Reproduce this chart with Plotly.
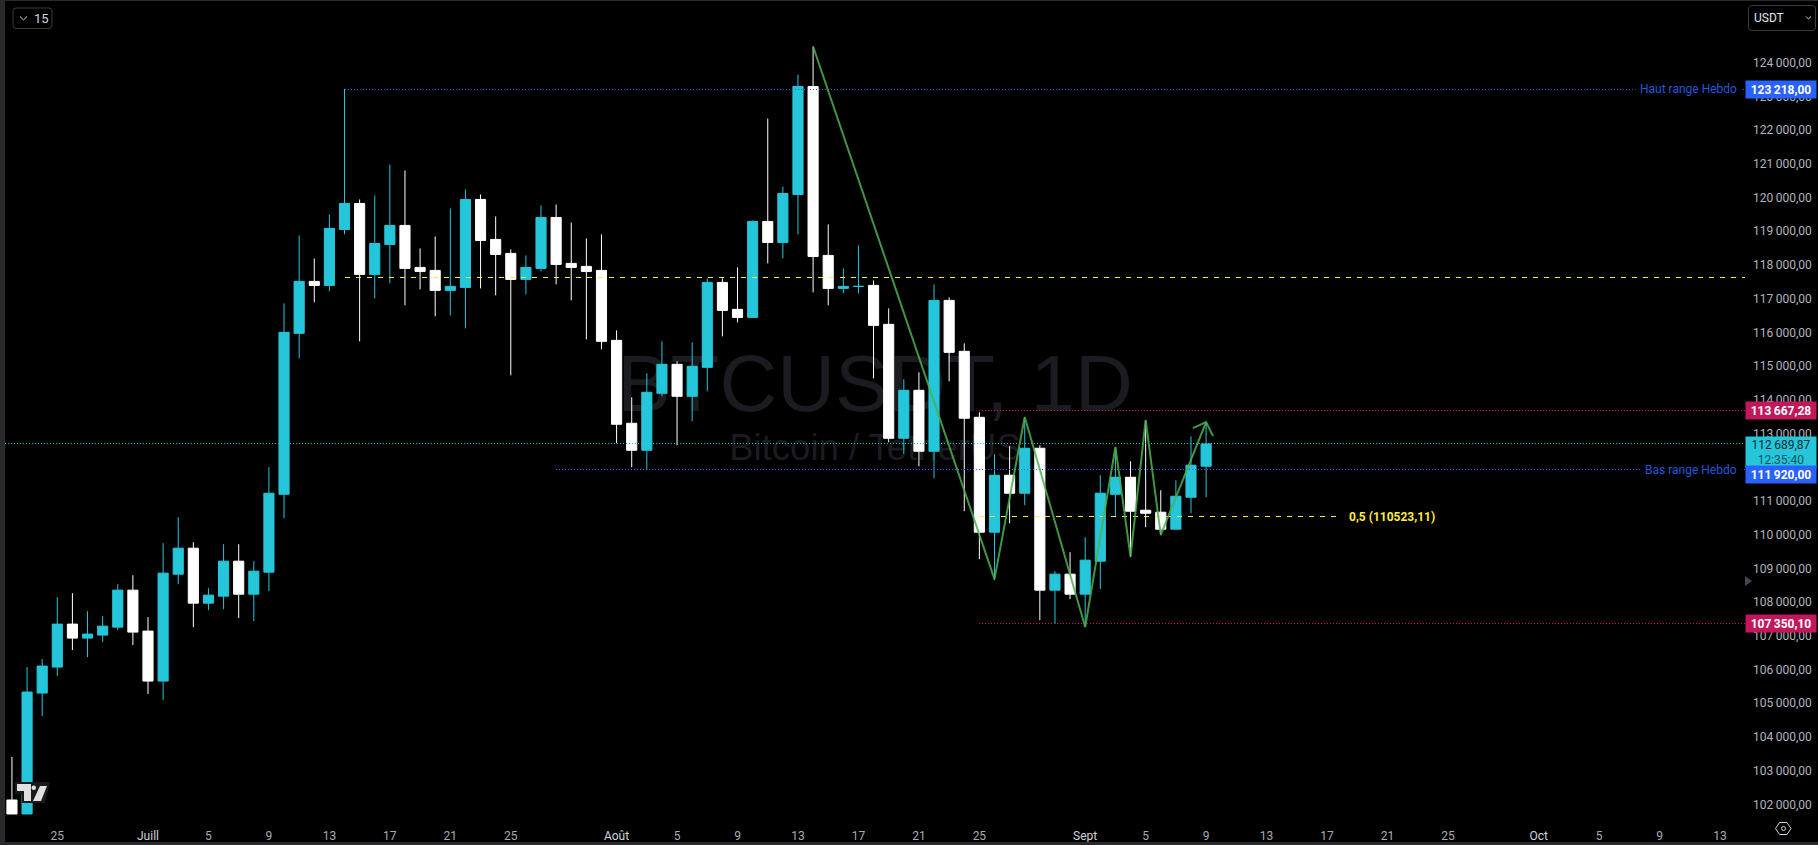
import pandas as pd
import plotly.graph_objects as go

W, H = 1818, 845
ML, MR, MB = 5, 73, 20
FONT = "Roboto"
CYAN = "#26C6DA"
WHITE = "#FFFFFF"
BLUE = "#2962FF"
RED = "#C2185B"
YELLOW = "#FFEB3B"
GREEN = "#4CAF50"

first_day = "2025-06-22"
opens = [102089,101673,105266,106038,107315,106899,106988,107225,108324,107107,105622,108799,109571,107938,108146,109185,108205,108858,111174,115954,
         117498,117379,119042,119814,117706,118597,119161,117914,117825,117231,117320,119933,118745,118330,117558,117884,119398,118033,117944,117825,
         115746,113282,112481,114173,115034,114084,114945,117468,116667,116429,119280,118656,120081,123288,118270,117290,117350,117379,116222,112837,
         114262,112451,116934,115420,113460,110046,111738,111204,112540,108324,108799,108205,109185,111174,111679,110699,110640,110135,111085,112006]
highs = [103366,106038,106275,108116,108235,107700,107552,108502,108769,107522,109719,110491,109749,108383,109690,109690,109185,111976,116845,118864,
         118181,119487,123218,119933,120052,120972,120794,118478,118834,119666,120230,120081,119428,118448,118270,119755,119784,119250,118775,118894,
         116043,114054,114767,115717,115123,115687,117587,117587,117914,119309,122338,120319,123644,124475,119191,117884,118567,117528,116697,114589,
         114796,117409,117023,115657,113609,112362,112599,113460,112629,108888,109452,109898,111738,112570,112154,113371,111293,111590,112896,113312]
lows = [101673,101673,104583,105771,106543,106335,106780,107136,106691,105236,105058,108502,107225,107730,107760,107493,107404,108294,110462,115212,
        116875,117201,118894,115717,116993,117439,116786,117261,116459,116489,116103,117290,117083,114707,117112,117795,117409,116934,115776,115479,
        112688,111976,111887,114084,112629,113342,114232,115865,116281,116429,118033,118181,118894,117172,116786,117142,117142,114618,112718,112362,
        112006,111649,114529,110669,109244,108621,110313,110848,107433,107315,108057,107225,108354,110491,109304,110194,109957,110135,110610,111085]
closes = [101673,105296,106068,107315,106899,107018,107255,108324,107077,105622,108829,109571,107938,108176,109185,108205,108888,111204,115984,117498,
          117379,119072,119814,117706,118626,119161,117884,117795,117231,117350,119933,118715,118300,117558,117914,119398,118003,117914,117795,115717,
          113253,112481,114203,115034,114084,114975,117468,116637,116429,119280,118656,120111,123288,118240,117290,117350,117350,116192,112837,114262,
          112451,116934,115390,113431,110046,111738,111204,112540,108324,108799,108205,109215,111204,111679,110669,110610,110135,111115,112035,112650]
dates = pd.date_range(first_day, periods=len(opens), freq="D")

# levels
level_high, level_low = 123218.00, 111920.00
level_mid = 117630
fib_half = 110523.11
level_red_up, level_red_down = 113667.28, 107350.10
last_price = 112689.87

# green wave drawing
wave_dates = ["2025-08-14","2025-08-26","2025-08-28","2025-09-01","2025-09-03","2025-09-04","2025-09-05","2025-09-06","2025-09-09"]
wave_prices = [124480,108680,113490,107260,112600,109340,113400,109990,113340]
arrow_dates = ["2025-09-08 03:00","2025-09-09 00:00","2025-09-09 11:00"]
arrow_prices = [113160,113340,112920]

y_ticks = list(range(102000, 125000, 1000))
x_tick_dates = ["2025-06-25","2025-07-01","2025-07-05","2025-07-09","2025-07-13","2025-07-17","2025-07-21","2025-07-25",
                "2025-08-01","2025-08-05","2025-08-09","2025-08-13","2025-08-17","2025-08-21","2025-08-25",
                "2025-09-01","2025-09-05","2025-09-09","2025-09-13","2025-09-17","2025-09-21","2025-09-25",
                "2025-10-01","2025-10-05","2025-10-09","2025-10-13"]
x_tick_text = ["25","Juill","5","9","13","17","21","25","Août","5","9","13","17","21","25","Sept","5","9","13","17","21","25","Oct","5","9","13"]
MONTHS = {"Juill","Août","Sept","Oct"}


# the candle values above were first read against a scale a hair too flat: small correction
def read_fix(values):
    return [round(v + 39 - 0.00165 * (v - 102000), 2) for v in values]


opens, highs, lows, closes = read_fix(opens), read_fix(highs), read_fix(lows), read_fix(closes)
closes[-1] = last_price
highs[22] = level_high


def fr(v):
    s = f"{v:,.2f}"
    return s.replace(",", "\u2009").replace(".", ",")


ref = pd.Timestamp("2025-07-01")
x_start = ref + pd.Timedelta(days=-9.46)
x_end = ref + pd.Timedelta(days=105.65)
y_min, y_max = 101386, 125859


def X(px):
    return (px - ML) / (W - ML - MR)


def Y(py):
    return (H - MB - py) / (H - MB)


fig = go.Figure()
fig.add_trace(go.Candlestick(
    x=dates, open=opens, high=highs, low=lows, close=closes,
    increasing=dict(line=dict(color=CYAN, width=1), fillcolor=CYAN),
    decreasing=dict(line=dict(color=WHITE, width=1), fillcolor=WHITE),
    whiskerwidth=0, showlegend=False, hoverinfo="skip",
))


def hline(x0, x1, y, color, dash):
    fig.add_trace(go.Scatter(x=[x0, x1], y=[y, y], mode="lines", showlegend=False, hoverinfo="skip",
                             line=dict(color=color, width=1, dash=dash)))


hline(x_start, x_end, last_price, CYAN, "1px,2px")
hline("2025-07-14", x_end, level_high, BLUE, "1px,2px")
hline("2025-07-28", x_end, level_low, BLUE, "1px,2px")
hline("2025-08-25", x_end, level_red_up, RED, "1px,2px")
hline("2025-08-25", x_end, level_red_down, RED, "1px,2px")
hline("2025-07-14", x_end, level_mid, YELLOW, "5px,6px")
hline("2025-08-25", "2025-09-17 16:00", fib_half, YELLOW, "5px,6px")

fig.add_trace(go.Scatter(x=wave_dates, y=wave_prices, mode="lines", showlegend=False, hoverinfo="skip",
                         opacity=0.85, line=dict(color=GREEN, width=2)))
fig.add_trace(go.Scatter(x=arrow_dates, y=arrow_prices, mode="lines", showlegend=False, hoverinfo="skip",
                         opacity=0.85, line=dict(color=GREEN, width=2)))

ann = []


def tag(price, bg, shift=0):
    ann.append(dict(xref="paper", yref="y", x=1, y=price, yshift=shift, xanchor="left", yanchor="middle", showarrow=False,
                    text=fr(price), bgcolor=bg, width=70, height=17, borderpad=0, align="center",
                    font=dict(family=FONT, size=12, color="#FFFFFF", weight="bold")))


ann.append(dict(xref="paper", yref="y", x=X(1742), y=level_high, xanchor="right", yanchor="middle", showarrow=False,
                text="Haut range Hebdo", bgcolor="#000000", borderpad=4, font=dict(family=FONT, size=12, color="#2457DC")))
ann.append(dict(xref="paper", yref="y", x=X(1742), y=level_low, xanchor="right", yanchor="middle", showarrow=False,
                text="Bas range Hebdo", bgcolor="#000000", borderpad=4, font=dict(family=FONT, size=12, color="#2457DC")))
tag(level_high, BLUE)
tag(level_red_up, RED)
ann.append(dict(xref="paper", yref="y", x=1, y=last_price, yshift=8, xanchor="left", yanchor="top", showarrow=False,
                text=fr(last_price) + '<br><span style="color:#13525E">12:35:40</span>', bgcolor=CYAN, width=70, height=31,
                borderpad=0, align="center", font=dict(family=FONT, size=12, color="#0C2A30")))
tag(level_low, BLUE, shift=-5)
tag(level_red_down, RED)
ann.append(dict(x="2025-09-18 08:00", y=fib_half, xanchor="left", yanchor="middle", showarrow=False,
                text="<b>0,5 (110523,11)</b>", font=dict(family=FONT, size=12, color=YELLOW)))
ann.append(dict(xref="paper", yref="paper", x=X(41), y=Y(18.5), xanchor="center", yanchor="middle", showarrow=False,
                text="15", font=dict(family=FONT, size=13, color="#D1D4DC")))
ann.append(dict(xref="paper", yref="paper", x=X(1752), y=Y(17.5), xanchor="left", yanchor="middle", showarrow=False,
                text="USDT", font=dict(family=FONT, size=12, color="#E6E8EE")))


def path(points, close=True):
    s = "M" + " L".join(f"{X(a):.5f},{Y(b):.5f}" for a, b in points)
    return s + (" Z" if close else "")


shapes = []
# watermark, under the candles
shapes.append(dict(type="rect", xref="paper", yref="paper", x0=0, x1=1, y0=Y(400), y1=Y(350), layer="below",
                   line=dict(width=0), fillcolor="rgba(0,0,0,0)",
                   label=dict(text="BTCUSDT, 1D", textposition="middle center",
                              font=dict(family="Liberation Sans", size=80, color="#1B1C21"))))
shapes.append(dict(type="rect", xref="paper", yref="paper", x0=0, x1=1, y0=Y(459), y1=Y(429), layer="below",
                   line=dict(width=0), fillcolor="rgba(0,0,0,0)",
                   label=dict(text="Bitcoin / TetherUS", textposition="middle center",
                              font=dict(family="Liberation Sans", size=36.5, color="#1B1C21"))))
# window frame
for x0, y0, x1, y1 in [(0, 0, 5, 845), (0, 842, 1818, 845), (0, 0, 1818, 1)]:
    shapes.append(dict(type="rect", xref="paper", yref="paper", x0=X(x0), x1=X(x1), y0=Y(y0), y1=Y(y1),
                       line=dict(width=0), fillcolor="#2A2A2C"))
# buttons
for x0, y0, x1, y1 in [(13, 8, 52, 28.5), (1748.5, 5.5, 1815.5, 30.5)]:
    r = 3
    seg = (f"M{X(x0+r):.5f},{Y(y0):.5f} L{X(x1-r):.5f},{Y(y0):.5f} Q{X(x1):.5f},{Y(y0):.5f} {X(x1):.5f},{Y(y0+r):.5f} "
           f"L{X(x1):.5f},{Y(y1-r):.5f} Q{X(x1):.5f},{Y(y1):.5f} {X(x1-r):.5f},{Y(y1):.5f} "
           f"L{X(x0+r):.5f},{Y(y1):.5f} Q{X(x0):.5f},{Y(y1):.5f} {X(x0):.5f},{Y(y1-r):.5f} "
           f"L{X(x0):.5f},{Y(y0+r):.5f} Q{X(x0):.5f},{Y(y0):.5f} {X(x0+r):.5f},{Y(y0):.5f} Z")
    shapes.append(dict(type="path", xref="paper", yref="paper", path=seg, line=dict(color="#3A3B40", width=1)))
shapes.append(dict(type="path", xref="paper", yref="paper", path=path([(20, 16.5), (23.5, 20), (27, 16.5)], False),
                   line=dict(color="#D1D4DC", width=1)))
shapes.append(dict(type="path", xref="paper", yref="paper", path=path([(1806, 16.5), (1808.5, 19), (1811, 16.5)], False),
                   line=dict(color="#D1D4DC", width=1)))
# scale arrow and gear
shapes.append(dict(type="path", xref="paper", yref="paper", path=path([(1745, 576), (1752, 581), (1745, 586)]),
                   line=dict(width=0), fillcolor="#434651"))
shapes.append(dict(type="path", xref="paper", yref="paper",
                   path=path([(1775.5, 828.5), (1779.5, 822.5), (1787, 822.5), (1791, 828.5), (1787, 834.5), (1779.5, 834.5)]),
                   line=dict(color="#D1D4DC", width=1)))
shapes.append(dict(type="circle", xref="paper", yref="paper", x0=X(1781.5), x1=X(1785.5), y0=Y(830.5), y1=Y(826.5),
                   line=dict(color="#D1D4DC", width=1)))
# logo
shapes.append(dict(type="path", xref="paper", yref="paper",
                   path=path([(15, 782), (50, 782), (45, 803), (22, 803), (22, 794), (15, 794)]),
                   line=dict(width=0), fillcolor="#1A1A1C"))
shapes.append(dict(type="path", xref="paper", yref="paper",
                   path=path([(17, 784), (31, 784), (31, 801), (24, 801), (24, 791), (17, 791)]),
                   line=dict(width=0), fillcolor="#E0E0E0"))
shapes.append(dict(type="circle", xref="paper", yref="paper", x0=X(31.5), x1=X(36), y0=Y(790), y1=Y(785.5),
                   line=dict(width=0), fillcolor="#E0E0E0"))
shapes.append(dict(type="path", xref="paper", yref="paper",
                   path=path([(40, 786), (47, 786), (41, 801), (33, 801)]),
                   line=dict(width=0), fillcolor="#E0E0E0"))

fig.update_layout(
    width=W, height=H, margin=dict(l=ML, r=MR, t=0, b=MB, autoexpand=False),
    paper_bgcolor="#000000", plot_bgcolor="#000000", showlegend=False, boxgap=0.33, boxgroupgap=0, dragmode=False,
    font=dict(family=FONT, size=12, color="#B2B5BE"),
    annotations=ann, shapes=shapes,
    xaxis=dict(type="date", range=[x_start, x_end], showgrid=False, zeroline=False, showline=False, ticks="",
               rangeslider=dict(visible=False), tickmode="array", tickvals=x_tick_dates,
               ticktext=[f'<span style="color:#D1D4DC">{t}</span>' if t in MONTHS else t for t in x_tick_text],
               tickangle=0, ticklabelstandoff=2, tickfont=dict(family=FONT, size=12, color="#A8ABB4")),
    yaxis=dict(range=[y_min, y_max], side="right", showgrid=False, zeroline=False, showline=False, ticks="",
               tickmode="array", tickvals=y_ticks, ticktext=[fr(v) for v in y_ticks], ticklabelstandoff=7,
               tickfont=dict(family=FONT, size=12, color="#B2B5BE")),
)

POST = """
document.body.style.margin='0';
document.body.style.background='#000';
document.documentElement.style.overflow='hidden';
document.querySelectorAll('.scatterlayer path.js-line').forEach(function(p){
  var d = p.style.strokeDasharray;
  if (d && d !== 'none') { p.style.shapeRendering = 'crispEdges'; }
});
"""
fig.write_html("out.html", config={"displayModeBar": False, "staticPlot": True}, post_script=POST)
